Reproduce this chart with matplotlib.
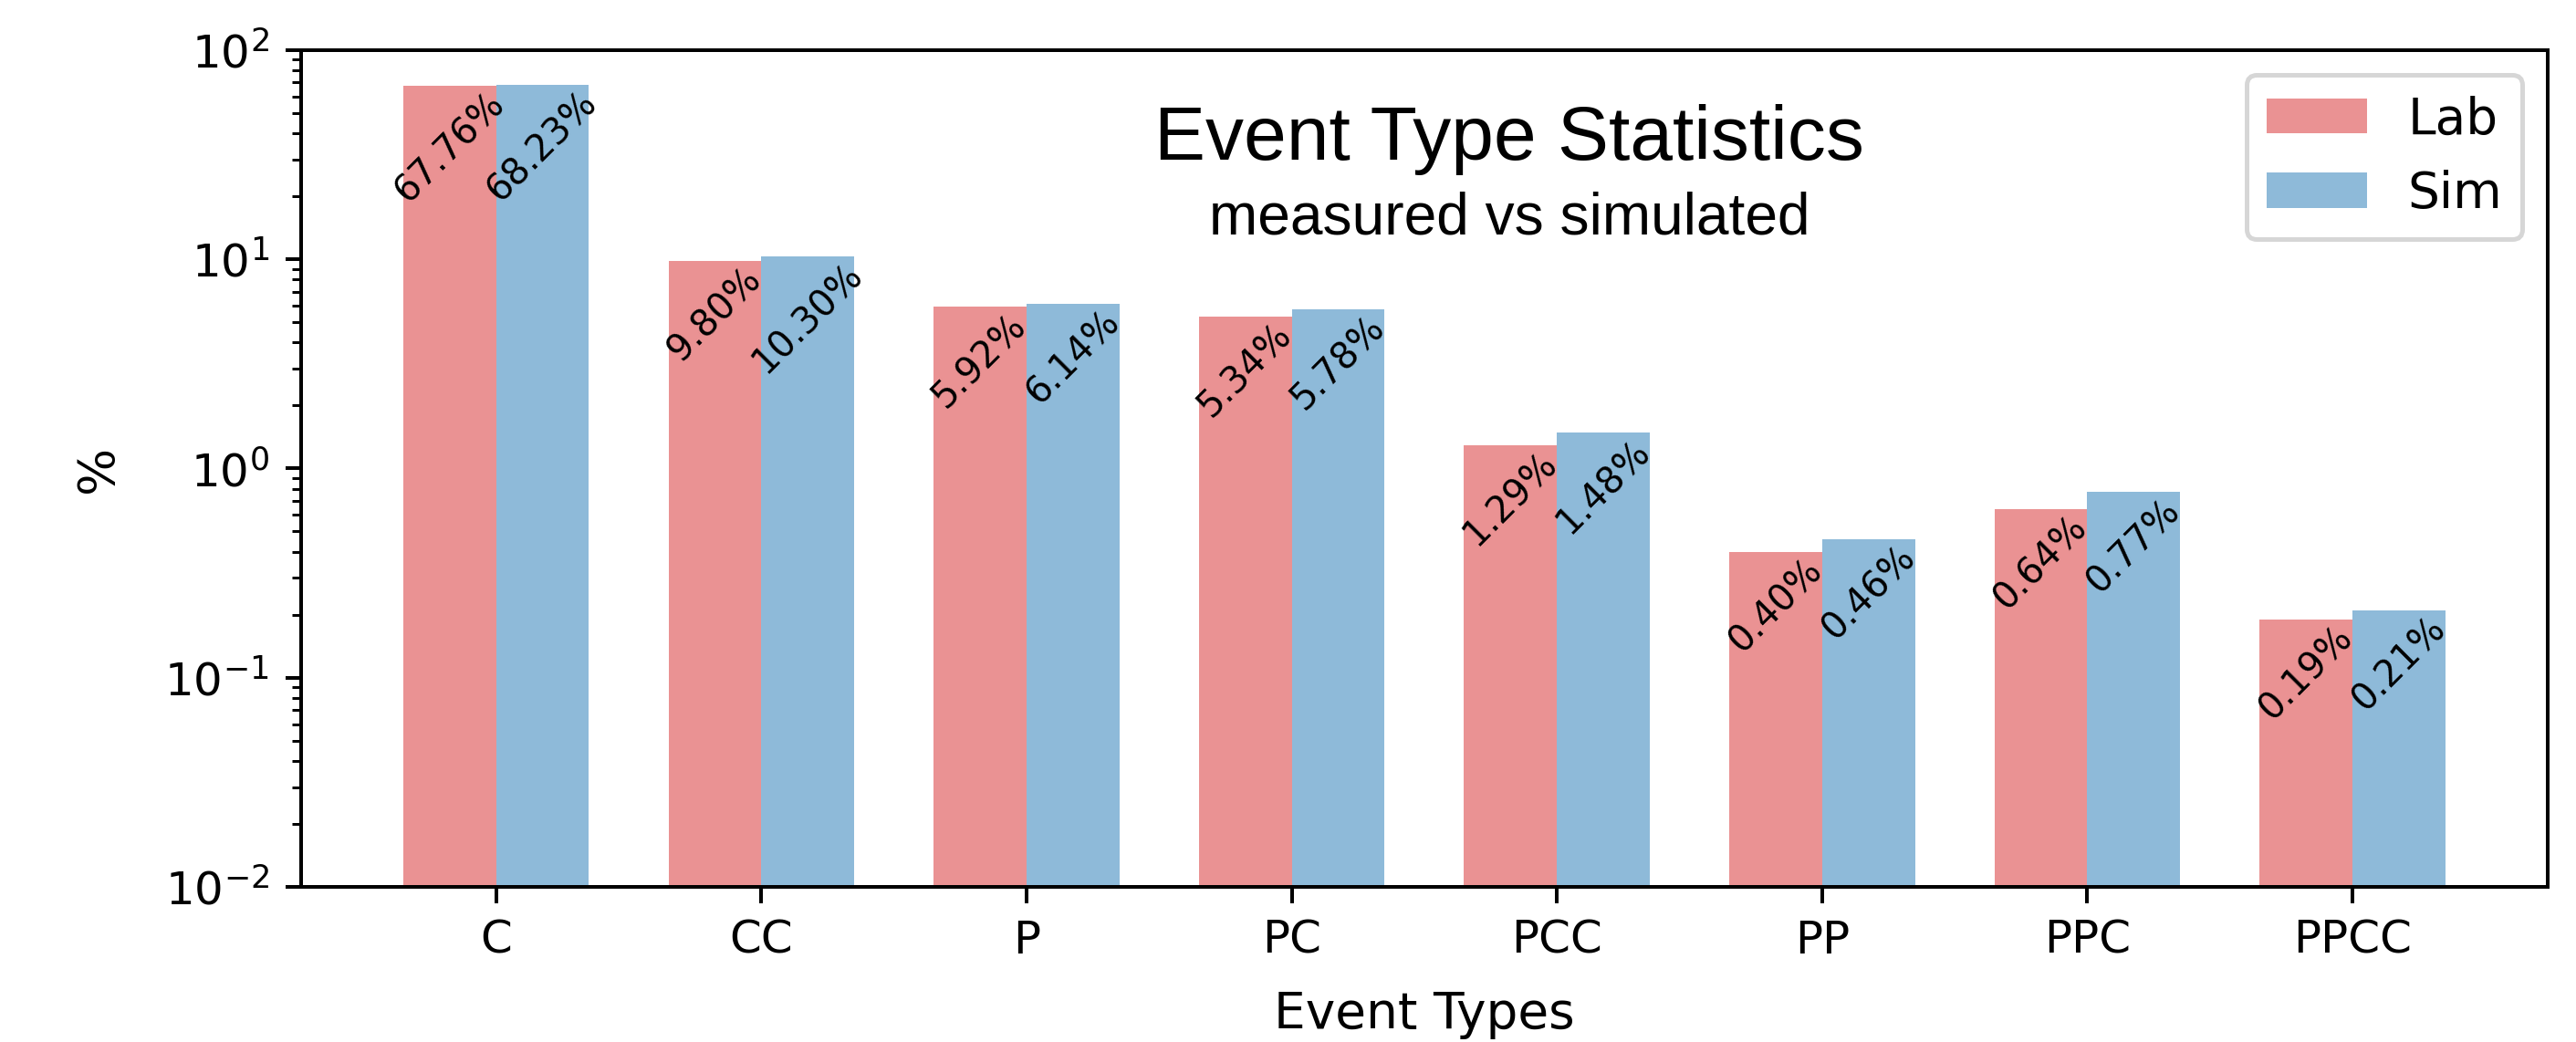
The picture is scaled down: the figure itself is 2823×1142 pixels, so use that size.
import matplotlib
matplotlib.use("Agg")
import matplotlib.pyplot as plt
import numpy as np

event_types = ["C", "CC", "P", "PC", "PCC", "PP", "PPC", "PPCC"]
lab_pct = [67.76, 9.80, 5.92, 5.34, 1.29, 0.40, 0.64, 0.19]
sim_pct = [68.23, 10.30, 6.14, 5.78, 1.48, 0.46, 0.77, 0.21]

width = 0.35
x = np.arange(len(event_types))

fig = plt.figure(figsize=(2823 / 360, 1142 / 360), dpi=360)
ax = fig.add_axes([0.1169, 0.1489, 0.872, 0.803])

bars_lab = ax.bar(x, lab_pct, width, color="tab:red", alpha=0.5, label="Lab")
bars_sim = ax.bar(x + width, sim_pct, width, color="tab:blue", alpha=0.5, label="Sim")

ax.set_yscale("log")
ax.set_ylim(1e-2, 1e2)

for bars, vals in [(bars_lab, lab_pct), (bars_sim, sim_pct)]:
    for b, v in zip(bars, vals):
        ax.text(b.get_x() + b.get_width() / 2, v, f"{v:.2f}%",
                ha="center", va="top", rotation=45, fontsize=8)

ax.set_xticks(x + width / 2)
ax.set_xticklabels(event_types)
ax.set_xlabel("Event Types", fontsize=11, labelpad=6)
ax.set_ylabel("%", fontsize=11, labelpad=9)
ax.legend(loc="upper right", fontsize=11)

ax.text(0.538, 0.869, "Event Type Statistics", transform=ax.transAxes,
        ha="center", va="baseline", fontsize=16.8, family=["Liberation Sans", "DejaVu Sans"])
ax.text(0.538, 0.780, "measured vs simulated", transform=ax.transAxes,
        ha="center", va="baseline", fontsize=12.8, family=["Liberation Sans", "DejaVu Sans"])

fig.savefig("out.png", dpi=360)
